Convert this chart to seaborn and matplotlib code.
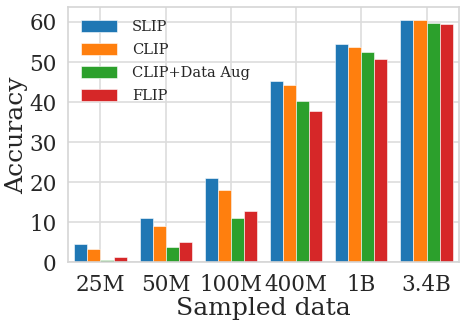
import matplotlib
matplotlib.use("Agg")
import matplotlib.pyplot as plt
import seaborn as sns
import pandas as pd

categories = ["25M", "50M", "100M", "400M", "1B", "3.4B"]
methods = ["SLIP", "CLIP", "CLIP+Data Aug", "FLIP"]
slip = [4.7, 11.2, 21.0, 45.2, 54.5, 60.4]
clip = [3.3, 9.2, 18.0, 44.2, 53.7, 60.4]
clip_aug = [0.5, 3.8, 11.0, 40.4, 52.5, 59.8]
flip = [1.3, 5.1, 12.8, 37.9, 50.7, 59.4]

rows = []
for m, vals in zip(methods, [slip, clip, clip_aug, flip]):
    for c, v in zip(categories, vals):
        rows.append({"Sampled data": c, "Accuracy": v, "Method": m})
df = pd.DataFrame(rows)

sns.set_theme(style="whitegrid")
plt.rcParams["font.family"] = ["DejaVu Serif"]

fig, ax = plt.subplots(figsize=(4.68, 3.24), dpi=100)
palette = ["#1f77b4", "#ff7f0e", "#2ca02c", "#d62728"]
sns.barplot(data=df, x="Sampled data", y="Accuracy", hue="Method",
            palette=palette, saturation=1, ax=ax, width=0.8, gap=0,
            edgecolor="white", linewidth=0.4)
ax.set_xlabel("Sampled data", fontsize=18, labelpad=1)
ax.set_ylabel("Accuracy", fontsize=18, labelpad=1)
ax.tick_params(axis="both", labelsize=15.5, pad=2)
ax.set_yticks([0, 10, 20, 30, 40, 50, 60])
ax.set_ylim(0, 63.7)
ax.set_xlim(-0.5, 5.5)
ax.xaxis.grid(True, color="#dddddd", linewidth=1.2)
ax.yaxis.grid(True, color="#dddddd", linewidth=1.2)
ax.set_axisbelow(True)
for s in ax.spines.values():
    s.set_visible(True)
    s.set_color("#d5d5d5")
    s.set_linewidth(1.2)
leg = ax.legend(loc="upper left", fontsize=10.5, frameon=False,
                handlelength=2.5, handleheight=0.9, borderaxespad=0.5,
                labelspacing=0.6, handletextpad=1.0)
fig.subplots_adjust(left=0.145, right=0.981, top=0.978, bottom=0.19)
fig.savefig("out.png", dpi=100)
